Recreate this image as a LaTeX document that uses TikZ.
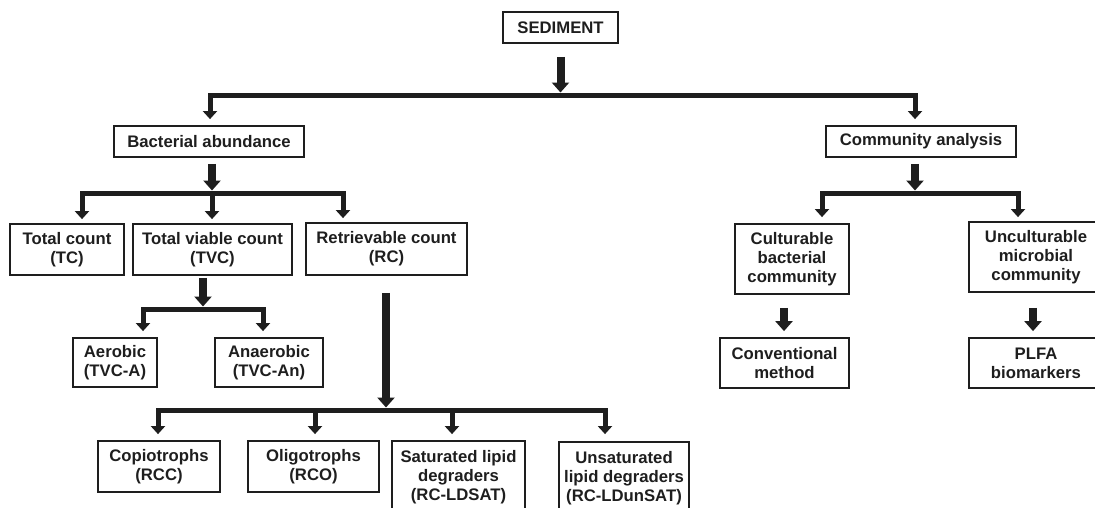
\documentclass[tikz,border=0pt]{standalone}
\usepackage{fontspec}
\setmainfont{Liberation Sans}
\usetikzlibrary{arrows.meta}
\definecolor{ink}{HTML}{1E1E1E}
\begin{document}
\begin{tikzpicture}[x=1pt,y=-1pt,
  box/.style={draw=ink,line width=1.8pt,inner sep=0pt,align=center,text=ink,
    font=\bfseries\fontsize{16.7}{19}\selectfont},
  fat/.style={draw=ink,line width=8pt,-{Triangle[width=17pt,length=10pt]}},
  bar/.style={draw=ink,line width=5pt,line join=miter,-{Triangle[width=14pt,length=8pt]}},
]
\useasboundingbox (0,0) rectangle (1095,507);
\clip (0,0) rectangle (1095,507);
\fill[white] (0,0) rectangle (1095,507);

% nodes
\node[box,minimum width=115pt,minimum height=31pt] (sed) at (560.5,27.5) {SEDIMENT};
\node[box,minimum width=190pt,minimum height=31pt] (ba) at (209,141.5) {Bacterial abundance};
\node[box,minimum width=190pt,minimum height=31pt] (ca) at (921,141.5) {Community analysis};

\node[box,minimum width=114pt,minimum height=51pt] (tc) at (67,249.5) {Total count\\(TC)};
\node[box,minimum width=159pt,minimum height=51pt] (tvc) at (212.5,249.5) {Total viable count\\(TVC)};
\node[box,minimum width=161pt,minimum height=52pt] (rc) at (386.5,249) {Retrievable count\\(RC)};

\node[box,minimum width=84pt,minimum height=49pt] (aer) at (115,362.5) {Aerobic\\(TVC-A)};
\node[box,minimum width=108pt,minimum height=49pt] (ana) at (269,362.5) {Anaerobic\\(TVC-An)};

\node[box,minimum width=122pt,minimum height=51pt] (cop) at (159,466.5) {Copiotrophs\\(RCC)};
\node[box,minimum width=131pt,minimum height=51pt] (oli) at (313.5,466.5) {Oligotrophs\\(RCO)};
\node[box,minimum width=133pt,minimum height=72pt] (sat) at (458.5,477) {Saturated lipid\\degraders\\(RC-LDSAT)};
\node[box,minimum width=130pt,minimum height=72pt] (uns) at (624,478) {Unsaturated\\lipid degraders\\(RC-LDunSAT)};

\node[box,minimum width=114pt,minimum height=70pt] (cul) at (792,259) {Culturable\\bacterial\\community};
\node[box,minimum width=134pt,minimum height=70pt] (unc) at (1036,257) {Unculturable\\microbial\\community};
\node[box,minimum width=129pt,minimum height=50pt] (conv) at (784.5,363) {Conventional\\method};
\node[box,minimum width=134pt,minimum height=50pt] (plfa) at (1036,363) {PLFA\\biomarkers};

% junctions on the bars
\coordinate (j0) at (560.5,95);
\coordinate (jba) at (212,193);
\coordinate (jtvc) at (203,309);
\coordinate (jrc) at (386,410);
\coordinate (jca) at (915,193);

% sediment
\draw[fat,shorten <=13pt,shorten >=2.5pt] (sed.south) -- (j0);
\draw[bar,shorten >=6pt] (j0) -| ([xshift=1pt]ba.north);
\draw[bar,shorten >=6pt] (j0) -| ([xshift=-6pt]ca.north);

% bacterial abundance
\draw[fat,shorten <=6pt,shorten >=2.5pt] (ba.south -| jba) -- (jba);
\draw[bar,shorten >=4pt] (jba) -| ([xshift=15pt]tc.north);
\draw[bar,shorten >=4pt] (jba) -- (tvc.north -| jba);
\draw[bar,shorten >=4pt] (jba) -| ([xshift=-43.5pt]rc.north);

% total viable count
\draw[fat,shorten <=2pt,shorten >=2.5pt] (tvc.south -| jtvc) -- (jtvc);
\draw[bar,shorten >=6pt] (jtvc) -| ([xshift=28pt]aer.north);
\draw[bar,shorten >=6pt] (jtvc) -| ([xshift=-6pt]ana.north);

% retrievable count
\draw[fat,shorten <=17pt,shorten >=2.5pt] (rc.south -| jrc) -- (jrc);
\draw[bar,shorten >=6pt] (jrc) -| ([xshift=-1pt]cop.north);
\draw[bar,shorten >=6pt] (jrc) -| ([xshift=1.5pt]oli.north);
\draw[bar,shorten >=6pt] (jrc) -| ([xshift=-6.5pt]sat.north);
\draw[bar,shorten >=7pt] (jrc) -| ([xshift=-19pt]uns.north);

% community analysis
\draw[fat,shorten <=6pt,shorten >=2.5pt] (ca.south -| jca) -- (jca);
\draw[bar,shorten >=6pt] (jca) -| ([xshift=30pt]cul.north);
\draw[bar,shorten >=4pt] (jca) -| ([xshift=-18pt]unc.north);

\draw[fat,shorten <=13pt,shorten >=6pt] ([xshift=-8pt]cul.south) -- ([xshift=-0.5pt]conv.north);
\draw[fat,shorten <=15pt,shorten >=6pt] ([xshift=-3pt]unc.south) -- ([xshift=-3pt]plfa.north);
\end{tikzpicture}
\end{document}
